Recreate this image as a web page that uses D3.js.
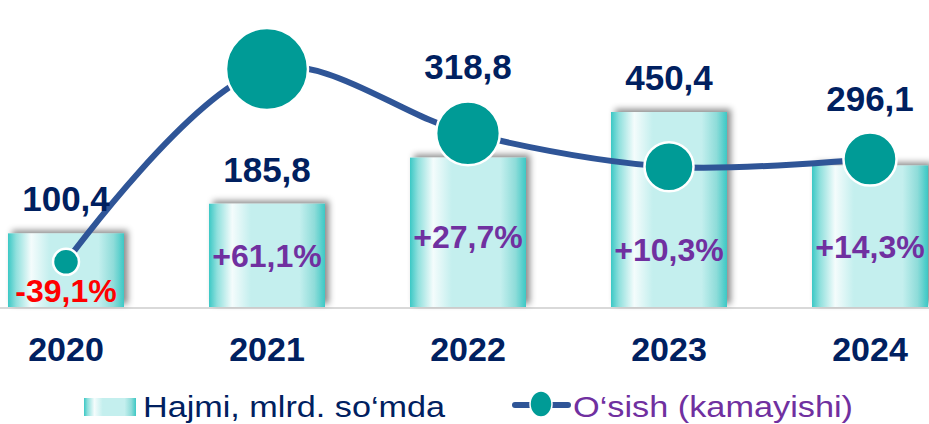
<!DOCTYPE html>
<html>
<head>
<meta charset="utf-8">
<script src="https://cdn.jsdelivr.net/npm/d3@7"></script>
<style>
  body { margin: 0; background: #fff; }
  text { font-family: "Liberation Sans", Arial, sans-serif; }
</style>
</head>
<body>
<div id="chart"></div>
<script>
var years = ["2020", "2021", "2022", "2023", "2024"];
var volume = [100.4, 185.8, 318.8, 450.4, 296.1];
var growth = [-39.1, 61.1, 27.7, 10.3, 14.3];
var volumeLabels = ["100,4", "185,8", "318,8", "450,4", "296,1"];
var growthLabels = ["-39,1%", "+61,1%", "+27,7%", "+10,3%", "+14,3%"];
var legendLabels = ["Hajmi, mlrd. so\u2018mda", "O\u2018sish (kamayishi)"];

var width = 929, height = 424;
var navy = "#002060", purple = "#7030a0", lineBlue = "#2f5597", teal = "#009b96";
var barW = 116;

var svg = d3.select("#chart")
  .append("svg")
    .attr("width", width)
    .attr("height", height);

var defs = svg.append("defs");

var grad = defs.append("linearGradient")
    .attr("id", "barGrad")
    .attr("x1", "0%").attr("x2", "100%")
    .attr("y1", "0%").attr("y2", "0%");
[["0%", "#3cc8c5"], ["7%", "#90e0dd"], ["20%", "#f4fcfc"], ["36%", "#c4efee"],
 ["78%", "#c4efee"], ["91%", "#8edcd9"], ["100%", "#3cc8c5"]].forEach(function (s) {
  grad.append("stop").attr("offset", s[0]).attr("stop-color", s[1]);
});

var shadow = defs.append("filter")
    .attr("id", "shadow")
    .attr("x", "-20%").attr("y", "-20%")
    .attr("width", "140%").attr("height", "140%");
shadow.append("feDropShadow")
    .attr("dx", 4).attr("dy", -3)
    .attr("stdDeviation", 3)
    .attr("flood-color", "#000")
    .attr("flood-opacity", 0.45);

// scales
var x = d3.scalePoint()
  .domain(years)
  .range([66, 870]);

var y = d3.scaleLinear()
  .domain([-112, 450.4])
  .range([307, 112]);

var yg = d3.scaleLinear()
  .domain([0, 61.1])
  .range([186.6, 69]);

var r = d3.scaleSqrt()
  .domain([0, 61.1])
  .range([13, 41])
  .clamp(true);

var data = years.map(function (yr, i) {
  return { year: yr, v: volume[i], g: growth[i], vl: volumeLabels[i], gl: growthLabels[i] };
});

var base = y(-112);

// baseline
svg.append("line")
    .attr("x1", 0).attr("x2", width)
    .attr("y1", base + 1).attr("y2", base + 1)
    .attr("stroke", "#d9d9d9")
    .attr("stroke-width", 2);

// bars
svg.selectAll("rect.bar")
  .data(data)
  .enter()
  .append("rect")
    .attr("class", "bar")
    .attr("x", function (d) { return x(d.year) - barW / 2; })
    .attr("y", function (d) { return y(d.v); })
    .attr("width", barW)
    .attr("height", function (d) { return base - y(d.v); })
    .attr("fill", "url(#barGrad)")
    .attr("filter", "url(#shadow)");

// growth line
var line = d3.line()
  .x(function (d) { return x(d.year); })
  .y(function (d) { return yg(d.g); })
  .curve(d3.curveCatmullRom);

svg.append("path")
    .datum(data)
    .attr("d", line)
    .attr("fill", "none")
    .attr("stroke", lineBlue)
    .attr("stroke-width", 6);

svg.selectAll("circle.dot")
  .data(data)
  .enter()
  .append("circle")
    .attr("class", "dot")
    .attr("cx", function (d) { return x(d.year); })
    .attr("cy", function (d) { return yg(d.g); })
    .attr("r", function (d) { return r(d.g); })
    .attr("fill", teal)
    .attr("stroke", "#fff")
    .attr("stroke-width", 2.5);

// value labels: above the bar, or above the marker when it sits in the way
svg.selectAll("text.val")
  .data(data)
  .enter()
  .append("text")
    .attr("class", "val")
    .attr("x", function (d) { return x(d.year); })
    .attr("y", function (d) {
      var top = y(d.v);
      var mb = yg(d.g) + r(d.g);
      if (mb > top - 50) top = Math.min(top, yg(d.g) - r(d.g));
      return top - 22;
    })
    .attr("text-anchor", "middle")
    .attr("font-size", 35)
    .attr("font-weight", 700)
    .attr("fill", navy)
    .text(function (d) { return d.vl; });

// growth labels inside bars, halfway down the free part of the bar
svg.selectAll("text.pct")
  .data(data)
  .enter()
  .append("text")
    .attr("class", "pct")
    .attr("x", function (d) { return x(d.year); })
    .attr("y", function (d) {
      var top = Math.max(y(d.v), yg(d.g) + r(d.g));
      return (top + base) / 2;
    })
    .attr("dy", "0.36em")
    .attr("text-anchor", "middle")
    .attr("font-size", 32)
    .attr("font-weight", 700)
    .attr("fill", function (d) { return d.g < 0 ? "#ff0000" : purple; })
    .text(function (d) { return d.gl; });

// year axis labels
svg.selectAll("text.year")
  .data(years)
  .enter()
  .append("text")
    .attr("class", "year")
    .attr("x", function (d) { return x(d); })
    .attr("y", 361)
    .attr("text-anchor", "middle")
    .attr("font-size", 34)
    .attr("font-weight", 700)
    .attr("fill", navy)
    .text(function (d) { return d; });

// legend
var lg = svg.append("g");
lg.append("rect")
    .attr("x", 84).attr("y", 398)
    .attr("width", 52).attr("height", 18)
    .attr("fill", "url(#barGrad)");
lg.append("text")
    .attr("x", 143).attr("y", 417)
    .attr("font-size", 30)
    .attr("textLength", 302)
    .attr("lengthAdjust", "spacingAndGlyphs")
    .attr("fill", navy)
    .text(legendLabels[0]);

lg.append("line")
    .attr("x1", 515).attr("x2", 568)
    .attr("y1", 405).attr("y2", 405)
    .attr("stroke", lineBlue)
    .attr("stroke-width", 6)
    .attr("stroke-linecap", "round");
lg.append("ellipse")
    .attr("cx", 541).attr("cy", 404)
    .attr("rx", 11).attr("ry", 13)
    .attr("fill", teal)
    .attr("stroke", "#fff")
    .attr("stroke-width", 1.5);
lg.append("text")
    .attr("x", 573).attr("y", 417)
    .attr("font-size", 30)
    .attr("textLength", 280)
    .attr("lengthAdjust", "spacingAndGlyphs")
    .attr("fill", purple)
    .text(legendLabels[1]);
</script>
</body>
</html>
